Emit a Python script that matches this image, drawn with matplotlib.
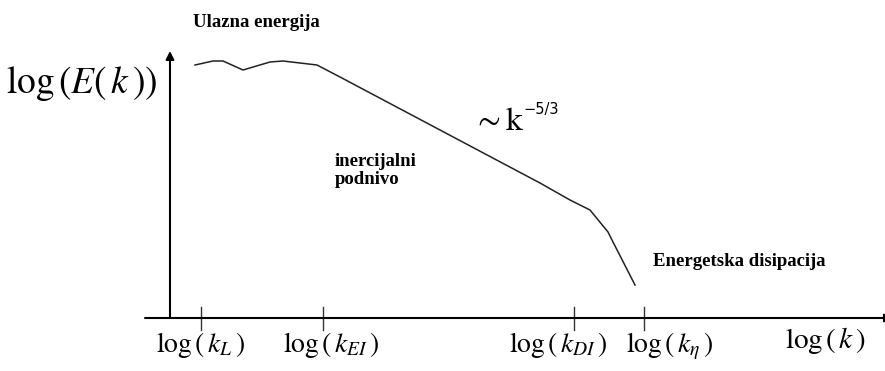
import matplotlib
matplotlib.use("Agg")
import matplotlib.pyplot as plt

plt.rcParams["mathtext.fontset"] = "stix"

# schematic energy spectrum, log-log units
spec_logk = [0.50, 0.86, 1.06, 1.46, 2.00, 2.26, 2.60, 2.94, 3.40, 7.40, 8.00, 8.40, 8.76, 8.86, 9.30]
spec_logE = [5.06, 5.14, 5.14, 4.96, 5.12, 5.14, 5.10, 5.06, 4.82, 2.70, 2.36, 2.16, 1.72, 1.52, 0.66]

tick_logk = [0.62, 3.06, 8.08, 9.48]
tick_labels = [
    r"$\log\left(\,k_L\,\right)$",
    r"$\log\left(\,k_{EI}\,\right)$",
    r"$\log\left(\,k_{DI}\,\right)$",
    r"$\log\left(\,k_\eta\,\right)$",
]
label_x = [0.60, 3.22, 7.76, 10.0]

fig = plt.figure(figsize=(8.85, 3.71), dpi=100)
ax = fig.add_axes([0, 0, 1, 1])
ax.set_xlim(-3.4, 14.3)
ax.set_ylim(-1.06, 6.36)
ax.axis("off")

arrow = dict(arrowstyle="-|>", mutation_scale=12, lw=1.5, color="black", shrinkA=0, shrinkB=0)
ax.annotate("", xy=(0, 5.34), xytext=(0, 0), arrowprops=arrow, annotation_clip=False)
# x axis runs off the right edge, only the base of its head shows
ax.annotate("", xy=(14.46, 0), xytext=(-0.5, 0), arrowprops=arrow, annotation_clip=False)

for x in tick_logk:
    ax.plot([x, x], [0.22, -0.24], color="#333333", lw=1.0)

ax.plot(spec_logk, spec_logE, color="#222222", lw=1.1)

for x, lab in zip(label_x, tick_labels):
    ax.text(x, -0.68, lab, ha="center", va="baseline", fontsize=20)
ax.text(13.1, -0.60, r"$\log\left(\,k\,\right)$", ha="center", va="baseline", fontsize=21)
ax.text(-1.76, 4.5, r"$\log\left(E\left(\,k\,\right)\right)$", ha="center", va="baseline", fontsize=27)

ax.text(6.06, 3.76, r"$\sim\mathrm{k}$", ha="left", va="baseline", fontsize=24)
ax.text(7.06, 4.08, "\u22125/3", ha="left", va="baseline", fontsize=10.5, family="DejaVu Sans")

bold = dict(family="Liberation Serif", weight="bold", fontsize=13.5, va="baseline", ha="left")
ax.text(0.46, 5.82, "Ulazna energija", **bold)
ax.text(3.30, 3.04, "inercijalni", **bold)
ax.text(3.30, 2.68, "podnivo", **bold)
ax.text(9.66, 1.04, "Energetska disipacija", **bold)

fig.savefig("out.png", dpi=100)
